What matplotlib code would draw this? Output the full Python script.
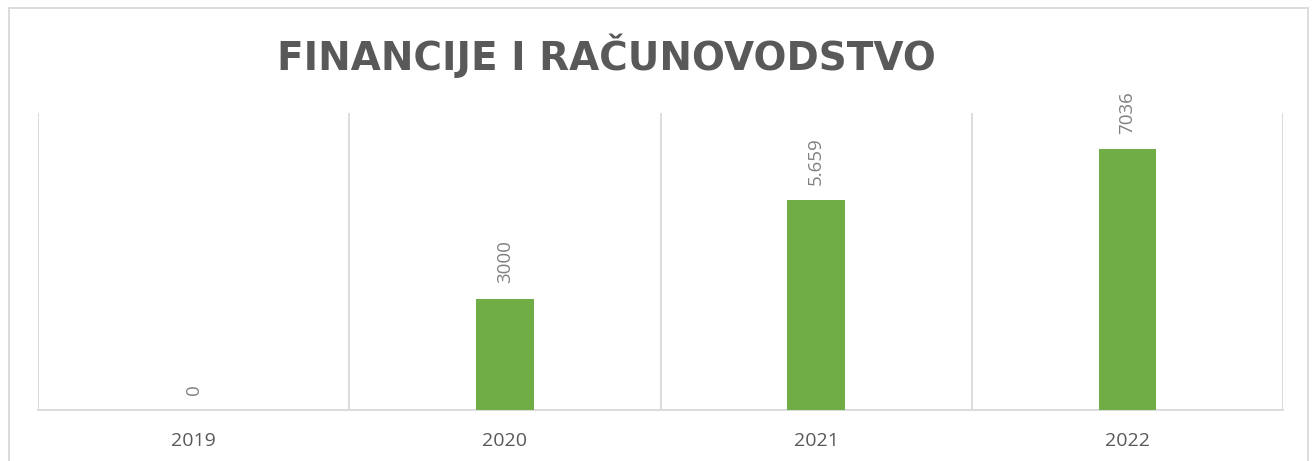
import matplotlib.pyplot as plt
from matplotlib.lines import Line2D

years = ["2019", "2020", "2021", "2022"]
values = [0, 3000, 5659, 7036]
value_labels = ["0", "3000", "5.659", "7036"]
title = "FINANCIJE I RAČUNOVODSTVO"

plt.rcParams["font.family"] = ["Open Sans", "DejaVu Sans"]

fig = plt.figure(figsize=(13.12, 4.61), dpi=100)
ax = fig.add_axes([38 / 1312, 1 - 410 / 461, (1283 - 38) / 1312, (410 - 113) / 461])

x = range(len(years))
bars = ax.bar(x, values, width=0.184, color="#70AD47", zorder=3)

for bar, lab in zip(bars, value_labels):
    ax.annotate(
        lab,
        (bar.get_x() + bar.get_width() / 2, bar.get_height()),
        xytext=(0, 11),
        textcoords="offset points",
        rotation=90,
        ha="center",
        va="bottom",
        fontsize=13.5,
        color="#808080",
    )

ax.set_xlim(-0.5, len(years) - 0.5)
ax.set_ylim(0, 8000)
for b in [i - 0.5 for i in range(len(years) + 1)]:
    ax.axvline(b, color="#d9d9d9", lw=1.3, zorder=1)

for s in ["top", "left", "right"]:
    ax.spines[s].set_visible(False)
ax.spines["bottom"].set_color("#d9d9d9")
ax.spines["bottom"].set_linewidth(1.3)
ax.set_yticks([])
ax.set_xticks(list(x))
ax.set_xticklabels(years, fontsize=14, color="#595959")
ax.tick_params(axis="x", length=0, pad=16)

fig.text(0.462, 1 - 56 / 461, title, ha="center", va="center", family="DejaVu Sans",
         fontsize=28, fontweight="bold", color="#595959")

# outer chart frame
x0, x1, y0 = 9 / 1312, 1308 / 1312, 1 - 8 / 461
for xs, ys in [([x0, x1], [y0, y0]), ([x0, x0], [y0, 0]), ([x1, x1], [y0, 0])]:
    fig.add_artist(Line2D(xs, ys, color="#d9d9d9", lw=1.3, transform=fig.transFigure))

fig.savefig("out.png", dpi=100)
